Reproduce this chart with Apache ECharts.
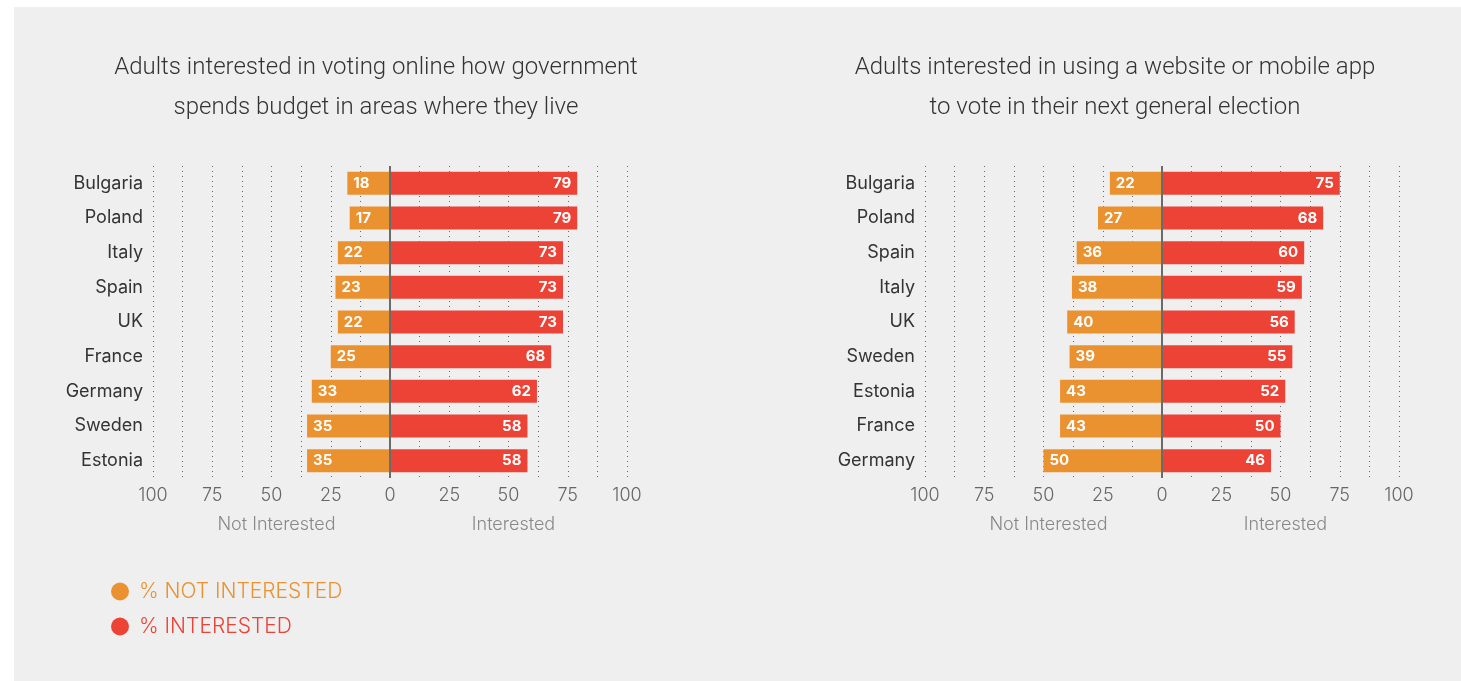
<!DOCTYPE html>
<html>
<head>
<meta charset="utf-8">
<script src="https://cdn.jsdelivr.net/npm/echarts@6/dist/echarts.min.js"></script>
<style>
  html, body { margin: 0; padding: 0; background: #ffffff; }
  #chart { width: 1461px; height: 681px; }
</style>
</head>
<body>
<div id="chart"></div>
<script>
// Survey results: share of adults interested / not interested (%)
const countriesBudget = ['Bulgaria', 'Poland', 'Italy', 'Spain', 'UK', 'France', 'Germany', 'Sweden', 'Estonia'];
const budgetNotInterested = [18, 17, 22, 23, 22, 25, 33, 35, 35];
const budgetInterested = [79, 79, 73, 73, 73, 68, 62, 58, 58];

const countriesElection = ['Bulgaria', 'Poland', 'Spain', 'Italy', 'UK', 'Sweden', 'Estonia', 'France', 'Germany'];
const electionNotInterested = [22, 27, 36, 38, 40, 39, 43, 43, 50];
const electionInterested = [75, 68, 60, 59, 56, 55, 52, 50, 46];

const titles = [
  'Adults interested in voting online how government\nspends budget in areas where they live',
  'Adults interested in using a website or mobile app\nto vote in their next general election'
];
const sideLabels = ['Not Interested', 'Interested'];
const seriesNames = ['% NOT INTERESTED', '% INTERESTED'];

const ORANGE = '#EB9230';
const RED = '#EC4336';
const SANS = 'Inter, "Open Sans", sans-serif';

const grids = [
  { left: 153, width: 474, top: 166, height: 312 },
  { left: 925, width: 474, top: 166, height: 312 }
];

function valueAxis(gridIndex) {
  return {
    type: 'value', gridIndex, min: -100, max: 100, interval: 12.5,
    axisLine: { show: false }, axisTick: { show: false },
    splitLine: { show: true, lineStyle: { color: '#6a6a6a', width: 1, type: [1, 4] } },
    axisLabel: {
      margin: 9, color: '#666', fontSize: 18, fontWeight: 300, fontFamily: SANS,
      formatter: v => (v % 25 === 0 ? String(Math.abs(v)) : '')
    }
  };
}
function sideAxis(gridIndex) {
  return {
    type: 'value', gridIndex, min: -100, max: 100, interval: 50,
    position: 'bottom', offset: 29,
    axisLine: { show: false }, axisTick: { show: false }, splitLine: { show: false },
    axisLabel: {
      margin: 9, color: '#888', fontSize: 18, fontWeight: 300, fontFamily: SANS,
      padding: [0, 0, 0, 10],
      formatter: v => (v === -50 ? sideLabels[0] : v === 50 ? sideLabels[1] : '')
    }
  };
}
function catAxis(gridIndex, cats) {
  return {
    type: 'category', gridIndex, data: cats, inverse: true,
    axisLine: { show: false }, axisTick: { show: false },
    axisLabel: { margin: 10, color: '#333', fontSize: 18, fontFamily: SANS }
  };
}
function barLabel(pos) {
  return {
    show: true, position: pos, distance: 6, color: '#fff', fontSize: 15,
    fontWeight: 'bold', fontFamily: SANS,
    formatter: p => String(Math.abs(p.value))
  };
}
function pairSeries(idx, notArr, yesArr) {
  return [
    {
      name: seriesNames[0], type: 'bar', xAxisIndex: idx * 2, yAxisIndex: idx,
      data: notArr.map(v => -v), barWidth: 23, barGap: '-100%',
      itemStyle: { color: ORANGE }, label: barLabel('insideLeft'),
      markLine: {
        silent: true, symbol: 'none', label: { show: false },
        lineStyle: { color: '#6b6b6b', width: 2, type: 'solid' },
        data: [{ xAxis: 0 }]
      },
      z: 3
    },
    {
      name: seriesNames[1], type: 'bar', xAxisIndex: idx * 2, yAxisIndex: idx,
      data: yesArr, barWidth: 23, barGap: '-100%',
      itemStyle: { color: RED }, label: barLabel('insideRight'), z: 3
    }
  ];
}

const titleStyle = { fontFamily: 'Roboto, sans-serif', fontWeight: 300, fontSize: 24, lineHeight: 40, color: '#333' };

const chart = echarts.init(document.getElementById('chart'));
chart.setOption({
  backgroundColor: 'transparent',
  animation: false,
  graphic: [{
    type: 'rect', left: 14, top: 7, z: -10,
    shape: { width: 1447, height: 674 },
    style: { fill: '#efefef' }
  }],
  title: [
    { text: titles[0], left: 371, top: 43, textAlign: 'center', textStyle: titleStyle },
    { text: titles[1], left: 1110, top: 43, textAlign: 'center', textStyle: titleStyle }
  ],
  legend: {
    orient: 'vertical', left: 111, top: 581, itemGap: 14, padding: 0,
    icon: 'circle', itemWidth: 18, itemHeight: 18,
    selectedMode: false,
    textStyle: { fontFamily: SANS, fontSize: 21, fontWeight: 300, padding: [0, 0, 0, 5] },
    data: [
      { name: seriesNames[0], textStyle: { color: ORANGE } },
      { name: seriesNames[1], textStyle: { color: RED } }
    ]
  },
  grid: grids,
  xAxis: [valueAxis(0), sideAxis(0), valueAxis(1), sideAxis(1)],
  yAxis: [catAxis(0, countriesBudget), catAxis(1, countriesElection)],
  series: [
    ...pairSeries(0, budgetNotInterested, budgetInterested),
    ...pairSeries(1, electionNotInterested, electionInterested)
  ]
});
</script>
</body>
</html>
